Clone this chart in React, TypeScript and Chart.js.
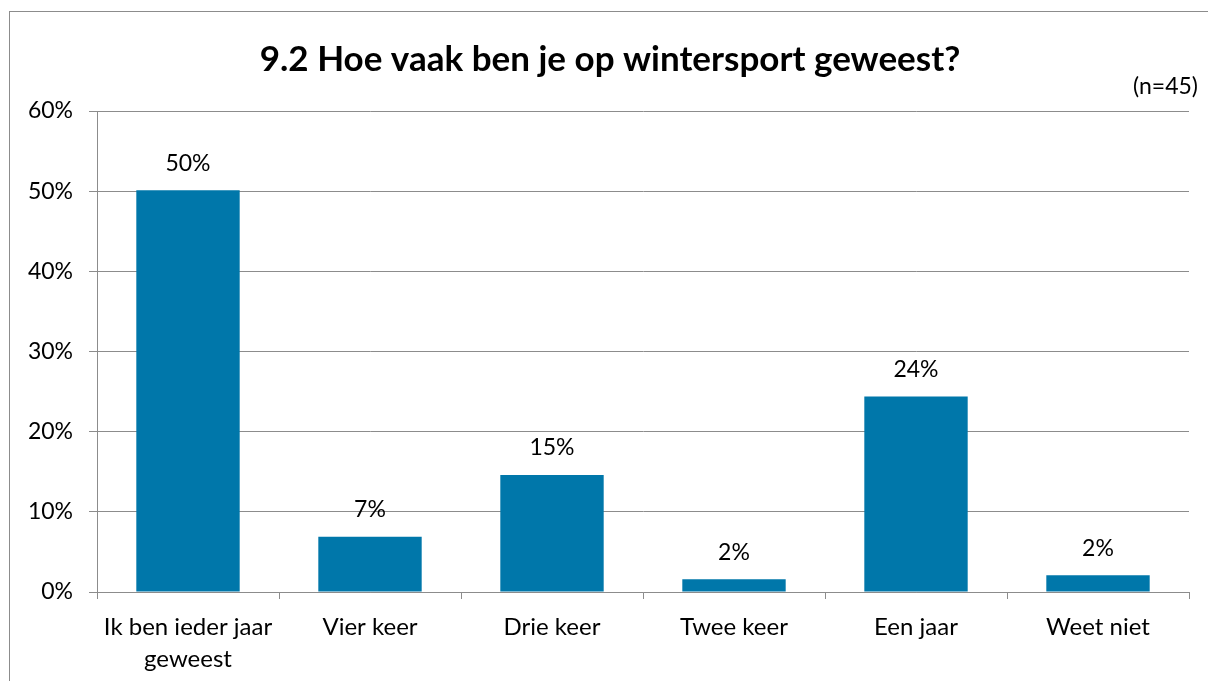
import React, { useEffect, useRef } from "react";
import { Chart, registerables } from "chart.js";

Chart.register(...registerables);

const TITLE = "9.2 Hoe vaak ben je op wintersport geweest?";
const SUBTITLE = "(n=45)";
const categories: (string | string[])[] = [
  ["Ik ben ieder jaar", "geweest"],
  "Vier keer",
  "Drie keer",
  "Twee keer",
  "Een jaar",
  "Weet niet",
];
const values = [50.1, 6.9, 14.6, 1.6, 24.4, 2.1];
const yMin = 0;
const yMax = 60;
const yStep = 10;

const FONT = "Lato, 'Open Sans', sans-serif";
const BAR_COLOR = "#0077AA";
const GRID_COLOR = "#8c8c8c";

const decorPlugin = {
  id: "decor",
  beforeDraw(chart: any) {
    const ctx = chart.ctx;
    ctx.save();
    ctx.fillStyle = "#ffffff";
    ctx.fillRect(0, 0, chart.width, chart.height);
    ctx.strokeStyle = "#8c8c8c";
    ctx.lineWidth = 1;
    ctx.strokeRect(9.5, 11.5, chart.width + 10, chart.height + 10);
    ctx.restore();
  },
  afterDraw(chart: any) {
    const ctx = chart.ctx;
    ctx.save();
    ctx.fillStyle = "#000000";
    ctx.textBaseline = "middle";
    ctx.textAlign = "center";
    ctx.font = `bold 35px ${FONT}`;
    ctx.fillText(TITLE, 610, 60);
    ctx.textAlign = "right";
    ctx.font = `23px ${FONT}`;
    ctx.fillText(SUBTITLE, 1198, 87);
    // data labels
    const meta = chart.getDatasetMeta(0);
    ctx.textAlign = "center";
    ctx.font = `23px ${FONT}`;
    meta.data.forEach((el: any, i: number) => {
      const v = values[i];
      ctx.fillText(`${Math.round(v)}%`, el.x, el.y - 27);
    });
    ctx.restore();
  },
};

export default function App() {
  const ref = useRef<HTMLCanvasElement | null>(null);
  useEffect(() => {
    if (!ref.current) return;
    const chart = new Chart(ref.current, {
      type: "bar",
      data: {
        labels: categories,
        datasets: [
          {
            data: values,
            backgroundColor: BAR_COLOR,
            borderWidth: 0,
            categoryPercentage: 1,
            barPercentage: 0.568,
          },
        ],
      },
      options: {
        responsive: false,
        animation: false,
        devicePixelRatio: 1,
        layout: { padding: { top: 111, right: 19, bottom: 0, left: 0 } },
        plugins: {
          legend: { display: false },
          title: { display: false },
          tooltip: { enabled: false },
        },
        scales: {
          x: {
            offset: true,
            grid: {
              offset: true,
              drawOnChartArea: false,
              drawTicks: true,
              tickLength: 7,
              color: GRID_COLOR,
            },
            border: { display: true, color: GRID_COLOR, width: 1 },
            ticks: {
              color: "#000000",
              font: { family: FONT, size: 24, lineHeight: 1.35 },
              padding: 12,
              maxRotation: 0,
              autoSkip: false,
            },
            afterFit(scale: any) {
              scale.height = 89;
            },
          },
          y: {
            min: yMin,
            max: yMax,
            grid: {
              color: GRID_COLOR,
              tickLength: 8,
              drawTicks: true,
            },
            border: { display: true, color: GRID_COLOR, width: 1 },
            ticks: {
              stepSize: yStep,
              color: "#000000",
              font: { family: FONT, size: 23 },
              padding: 16,
              callback: (v: any) => `${v}%`,
            },
            afterFit(scale: any) {
              scale.width = 97;
            },
          },
        },
      },
      plugins: [decorPlugin],
    });
    return () => chart.destroy();
  }, []);
  return (
    <div style={{ position: "fixed", left: 0, top: 0, width: 1208, height: 681, background: "#fff" }}>
      <canvas ref={ref} width={1208} height={681} style={{ display: "block" }} />
    </div>
  );
}
